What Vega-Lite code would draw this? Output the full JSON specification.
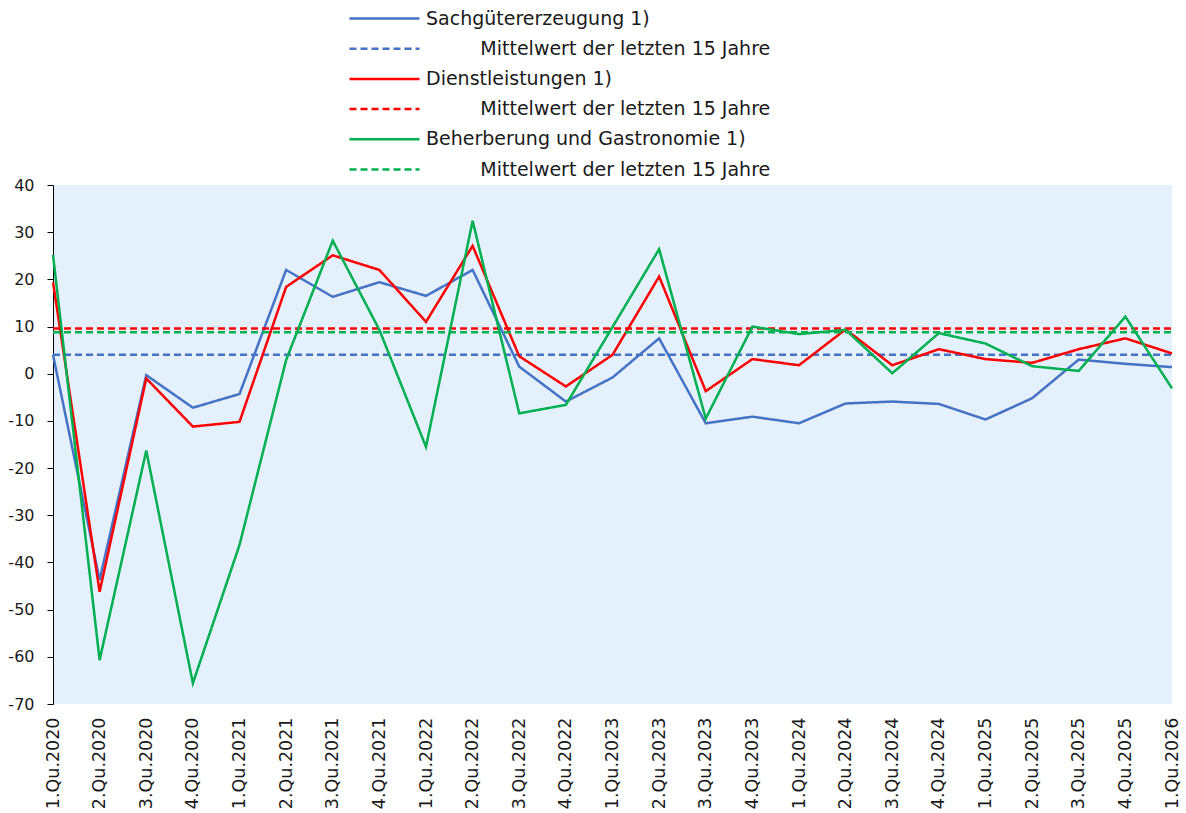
{
  "$schema": "https://vega.github.io/schema/vega-lite/v6.json",
  "width": 1119,
  "height": 519,
  "autosize": {"type": "none"},
  "padding": {"left": 53, "top": 185, "right": 14, "bottom": 109},
  "background": "white",
  "config": {
    "font": "DejaVu Sans",
    "view": {"fill": "#E4F0FC", "stroke": null},
    "axis": {"labelColor": "#1a1a1a", "grid": false, "title": null},
    "legend": {
      "orient": "none",
      "legendX": 322,
      "legendY": -176,
      "direction": "vertical",
      "padding": 0,
      "rowPadding": 10.2,
      "labelOffset": 32,
      "symbolType": "M-5,0H5",
      "symbolSize": 196,
      "symbolStrokeWidth": 2.5,
      "labelFontSize": 19,
      "labelColor": "#1a1a1a",
      "labelLimit": 0
    }
  },
  "data": {
    "values": [
      {"q": "1.Qu.2020", "s": "Sachgütererzeugung 1)", "v": 4.0},
      {"q": "2.Qu.2020", "s": "Sachgütererzeugung 1)", "v": -43.7},
      {"q": "3.Qu.2020", "s": "Sachgütererzeugung 1)", "v": -0.3},
      {"q": "4.Qu.2020", "s": "Sachgütererzeugung 1)", "v": -7.2},
      {"q": "1.Qu.2021", "s": "Sachgütererzeugung 1)", "v": -4.3},
      {"q": "2.Qu.2021", "s": "Sachgütererzeugung 1)", "v": 22.0},
      {"q": "3.Qu.2021", "s": "Sachgütererzeugung 1)", "v": 16.3},
      {"q": "4.Qu.2021", "s": "Sachgütererzeugung 1)", "v": 19.4},
      {"q": "1.Qu.2022", "s": "Sachgütererzeugung 1)", "v": 16.5},
      {"q": "2.Qu.2022", "s": "Sachgütererzeugung 1)", "v": 22.0},
      {"q": "3.Qu.2022", "s": "Sachgütererzeugung 1)", "v": 1.5},
      {"q": "4.Qu.2022", "s": "Sachgütererzeugung 1)", "v": -5.9},
      {"q": "1.Qu.2023", "s": "Sachgütererzeugung 1)", "v": -0.8},
      {"q": "2.Qu.2023", "s": "Sachgütererzeugung 1)", "v": 7.5},
      {"q": "3.Qu.2023", "s": "Sachgütererzeugung 1)", "v": -10.5},
      {"q": "4.Qu.2023", "s": "Sachgütererzeugung 1)", "v": -9.1},
      {"q": "1.Qu.2024", "s": "Sachgütererzeugung 1)", "v": -10.5},
      {"q": "2.Qu.2024", "s": "Sachgütererzeugung 1)", "v": -6.3},
      {"q": "3.Qu.2024", "s": "Sachgütererzeugung 1)", "v": -5.9},
      {"q": "4.Qu.2024", "s": "Sachgütererzeugung 1)", "v": -6.4},
      {"q": "1.Qu.2025", "s": "Sachgütererzeugung 1)", "v": -9.7},
      {"q": "2.Qu.2025", "s": "Sachgütererzeugung 1)", "v": -5.2},
      {"q": "3.Qu.2025", "s": "Sachgütererzeugung 1)", "v": 3.0},
      {"q": "4.Qu.2025", "s": "Sachgütererzeugung 1)", "v": 2.1},
      {"q": "1.Qu.2026", "s": "Sachgütererzeugung 1)", "v": 1.4},
      {"q": "1.Qu.2020", "s": "Mittelwert Sachgütererzeugung", "v": 4.0},
      {"q": "1.Qu.2026", "s": "Mittelwert Sachgütererzeugung", "v": 4.0},
      {"q": "1.Qu.2020", "s": "Dienstleistungen 1)", "v": 19.4},
      {"q": "2.Qu.2020", "s": "Dienstleistungen 1)", "v": -46.2},
      {"q": "3.Qu.2020", "s": "Dienstleistungen 1)", "v": -1.0},
      {"q": "4.Qu.2020", "s": "Dienstleistungen 1)", "v": -11.2},
      {"q": "1.Qu.2021", "s": "Dienstleistungen 1)", "v": -10.2},
      {"q": "2.Qu.2021", "s": "Dienstleistungen 1)", "v": 18.4},
      {"q": "3.Qu.2021", "s": "Dienstleistungen 1)", "v": 25.1},
      {"q": "4.Qu.2021", "s": "Dienstleistungen 1)", "v": 22.0},
      {"q": "1.Qu.2022", "s": "Dienstleistungen 1)", "v": 11.0},
      {"q": "2.Qu.2022", "s": "Dienstleistungen 1)", "v": 27.1},
      {"q": "3.Qu.2022", "s": "Dienstleistungen 1)", "v": 3.7},
      {"q": "4.Qu.2022", "s": "Dienstleistungen 1)", "v": -2.7},
      {"q": "1.Qu.2023", "s": "Dienstleistungen 1)", "v": 4.0},
      {"q": "2.Qu.2023", "s": "Dienstleistungen 1)", "v": 20.6},
      {"q": "3.Qu.2023", "s": "Dienstleistungen 1)", "v": -3.7},
      {"q": "4.Qu.2023", "s": "Dienstleistungen 1)", "v": 3.1},
      {"q": "1.Qu.2024", "s": "Dienstleistungen 1)", "v": 1.8},
      {"q": "2.Qu.2024", "s": "Dienstleistungen 1)", "v": 9.4},
      {"q": "3.Qu.2024", "s": "Dienstleistungen 1)", "v": 1.8},
      {"q": "4.Qu.2024", "s": "Dienstleistungen 1)", "v": 5.2},
      {"q": "1.Qu.2025", "s": "Dienstleistungen 1)", "v": 3.1},
      {"q": "2.Qu.2025", "s": "Dienstleistungen 1)", "v": 2.3},
      {"q": "3.Qu.2025", "s": "Dienstleistungen 1)", "v": 5.2},
      {"q": "4.Qu.2025", "s": "Dienstleistungen 1)", "v": 7.5},
      {"q": "1.Qu.2026", "s": "Dienstleistungen 1)", "v": 4.3},
      {"q": "1.Qu.2020", "s": "Mittelwert Dienstleistungen", "v": 9.6},
      {"q": "1.Qu.2026", "s": "Mittelwert Dienstleistungen", "v": 9.6},
      {"q": "1.Qu.2020", "s": "Beherberung und Gastronomie 1)", "v": 25.2},
      {"q": "2.Qu.2020", "s": "Beherberung und Gastronomie 1)", "v": -60.7},
      {"q": "3.Qu.2020", "s": "Beherberung und Gastronomie 1)", "v": -16.3},
      {"q": "4.Qu.2020", "s": "Beherberung und Gastronomie 1)", "v": -65.6},
      {"q": "1.Qu.2021", "s": "Beherberung und Gastronomie 1)", "v": -36.3},
      {"q": "2.Qu.2021", "s": "Beherberung und Gastronomie 1)", "v": 2.9},
      {"q": "3.Qu.2021", "s": "Beherberung und Gastronomie 1)", "v": 28.2},
      {"q": "4.Qu.2021", "s": "Beherberung und Gastronomie 1)", "v": 9.3},
      {"q": "1.Qu.2022", "s": "Beherberung und Gastronomie 1)", "v": -15.5},
      {"q": "2.Qu.2022", "s": "Beherberung und Gastronomie 1)", "v": 32.4},
      {"q": "3.Qu.2022", "s": "Beherberung und Gastronomie 1)", "v": -8.4},
      {"q": "4.Qu.2022", "s": "Beherberung und Gastronomie 1)", "v": -6.6},
      {"q": "1.Qu.2023", "s": "Beherberung und Gastronomie 1)", "v": 9.9},
      {"q": "2.Qu.2023", "s": "Beherberung und Gastronomie 1)", "v": 26.4},
      {"q": "3.Qu.2023", "s": "Beherberung und Gastronomie 1)", "v": -9.5},
      {"q": "4.Qu.2023", "s": "Beherberung und Gastronomie 1)", "v": 10.0},
      {"q": "1.Qu.2024", "s": "Beherberung und Gastronomie 1)", "v": 8.4},
      {"q": "2.Qu.2024", "s": "Beherberung und Gastronomie 1)", "v": 9.3},
      {"q": "3.Qu.2024", "s": "Beherberung und Gastronomie 1)", "v": 0.1},
      {"q": "4.Qu.2024", "s": "Beherberung und Gastronomie 1)", "v": 8.6},
      {"q": "1.Qu.2025", "s": "Beherberung und Gastronomie 1)", "v": 6.4},
      {"q": "2.Qu.2025", "s": "Beherberung und Gastronomie 1)", "v": 1.6},
      {"q": "3.Qu.2025", "s": "Beherberung und Gastronomie 1)", "v": 0.6},
      {"q": "4.Qu.2025", "s": "Beherberung und Gastronomie 1)", "v": 12.1},
      {"q": "1.Qu.2026", "s": "Beherberung und Gastronomie 1)", "v": -3.1},
      {"q": "1.Qu.2020", "s": "Mittelwert Beherberung", "v": 8.8},
      {"q": "1.Qu.2026", "s": "Mittelwert Beherberung", "v": 8.8}
    ]
  },
  "mark": {"type": "line", "strokeWidth": 2.5},
  "encoding": {
    "x": {
      "field": "q",
      "type": "ordinal",
      "sort": null,
      "scale": {"type": "point", "padding": 0},
      "axis": {"labelAngle": -90, "domain": false, "ticks": false, "labelFontSize": 17.5, "labelPadding": 13, "title": null}
    },
    "y": {
      "field": "v",
      "type": "quantitative",
      "scale": {"domain": [-70, 40], "nice": false},
      "axis": {
        "values": [-70, -60, -50, -40, -30, -20, -10, 0, 10, 20, 30, 40],
        "labelExpr": "replace(datum.label, '\u2212', '-')",
        "domainColor": "black",
        "tickColor": "black",
        "tickSize": 6,
        "labelFontSize": 16,
        "labelPadding": 13,
        "title": null
      }
    },
    "color": {
      "field": "s",
      "type": "nominal",
      "scale": {
        "domain": ["Sachgütererzeugung 1)", "Mittelwert Sachgütererzeugung", "Dienstleistungen 1)", "Mittelwert Dienstleistungen", "Beherberung und Gastronomie 1)", "Mittelwert Beherberung"],
        "range": ["#4472C4", "#4472C4", "#FF0000", "#FF0000", "#00B050", "#00B050"]
      },
      "legend": {
        "title": null,
        "labelExpr": "indexof(datum.label, 'Mittelwert') == 0 ? '\u200b\u00a0\u00a0\u00a0\u00a0\u00a0\u00a0\u00a0\u00a0\u00a0Mittelwert der letzten 15 Jahre' : datum.label"
      }
    },
    "strokeDash": {
      "field": "s",
      "type": "nominal",
      "scale": {
        "domain": ["Sachgütererzeugung 1)", "Mittelwert Sachgütererzeugung", "Dienstleistungen 1)", "Mittelwert Dienstleistungen", "Beherberung und Gastronomie 1)", "Mittelwert Beherberung"],
        "range": [[1, 0], [7, 4], [1, 0], [7, 4], [1, 0], [7, 4]]
      },
      "legend": {
        "title": null,
        "labelExpr": "indexof(datum.label, 'Mittelwert') == 0 ? '\u200b\u00a0\u00a0\u00a0\u00a0\u00a0\u00a0\u00a0\u00a0\u00a0Mittelwert der letzten 15 Jahre' : datum.label"
      }
    }
  }
}
